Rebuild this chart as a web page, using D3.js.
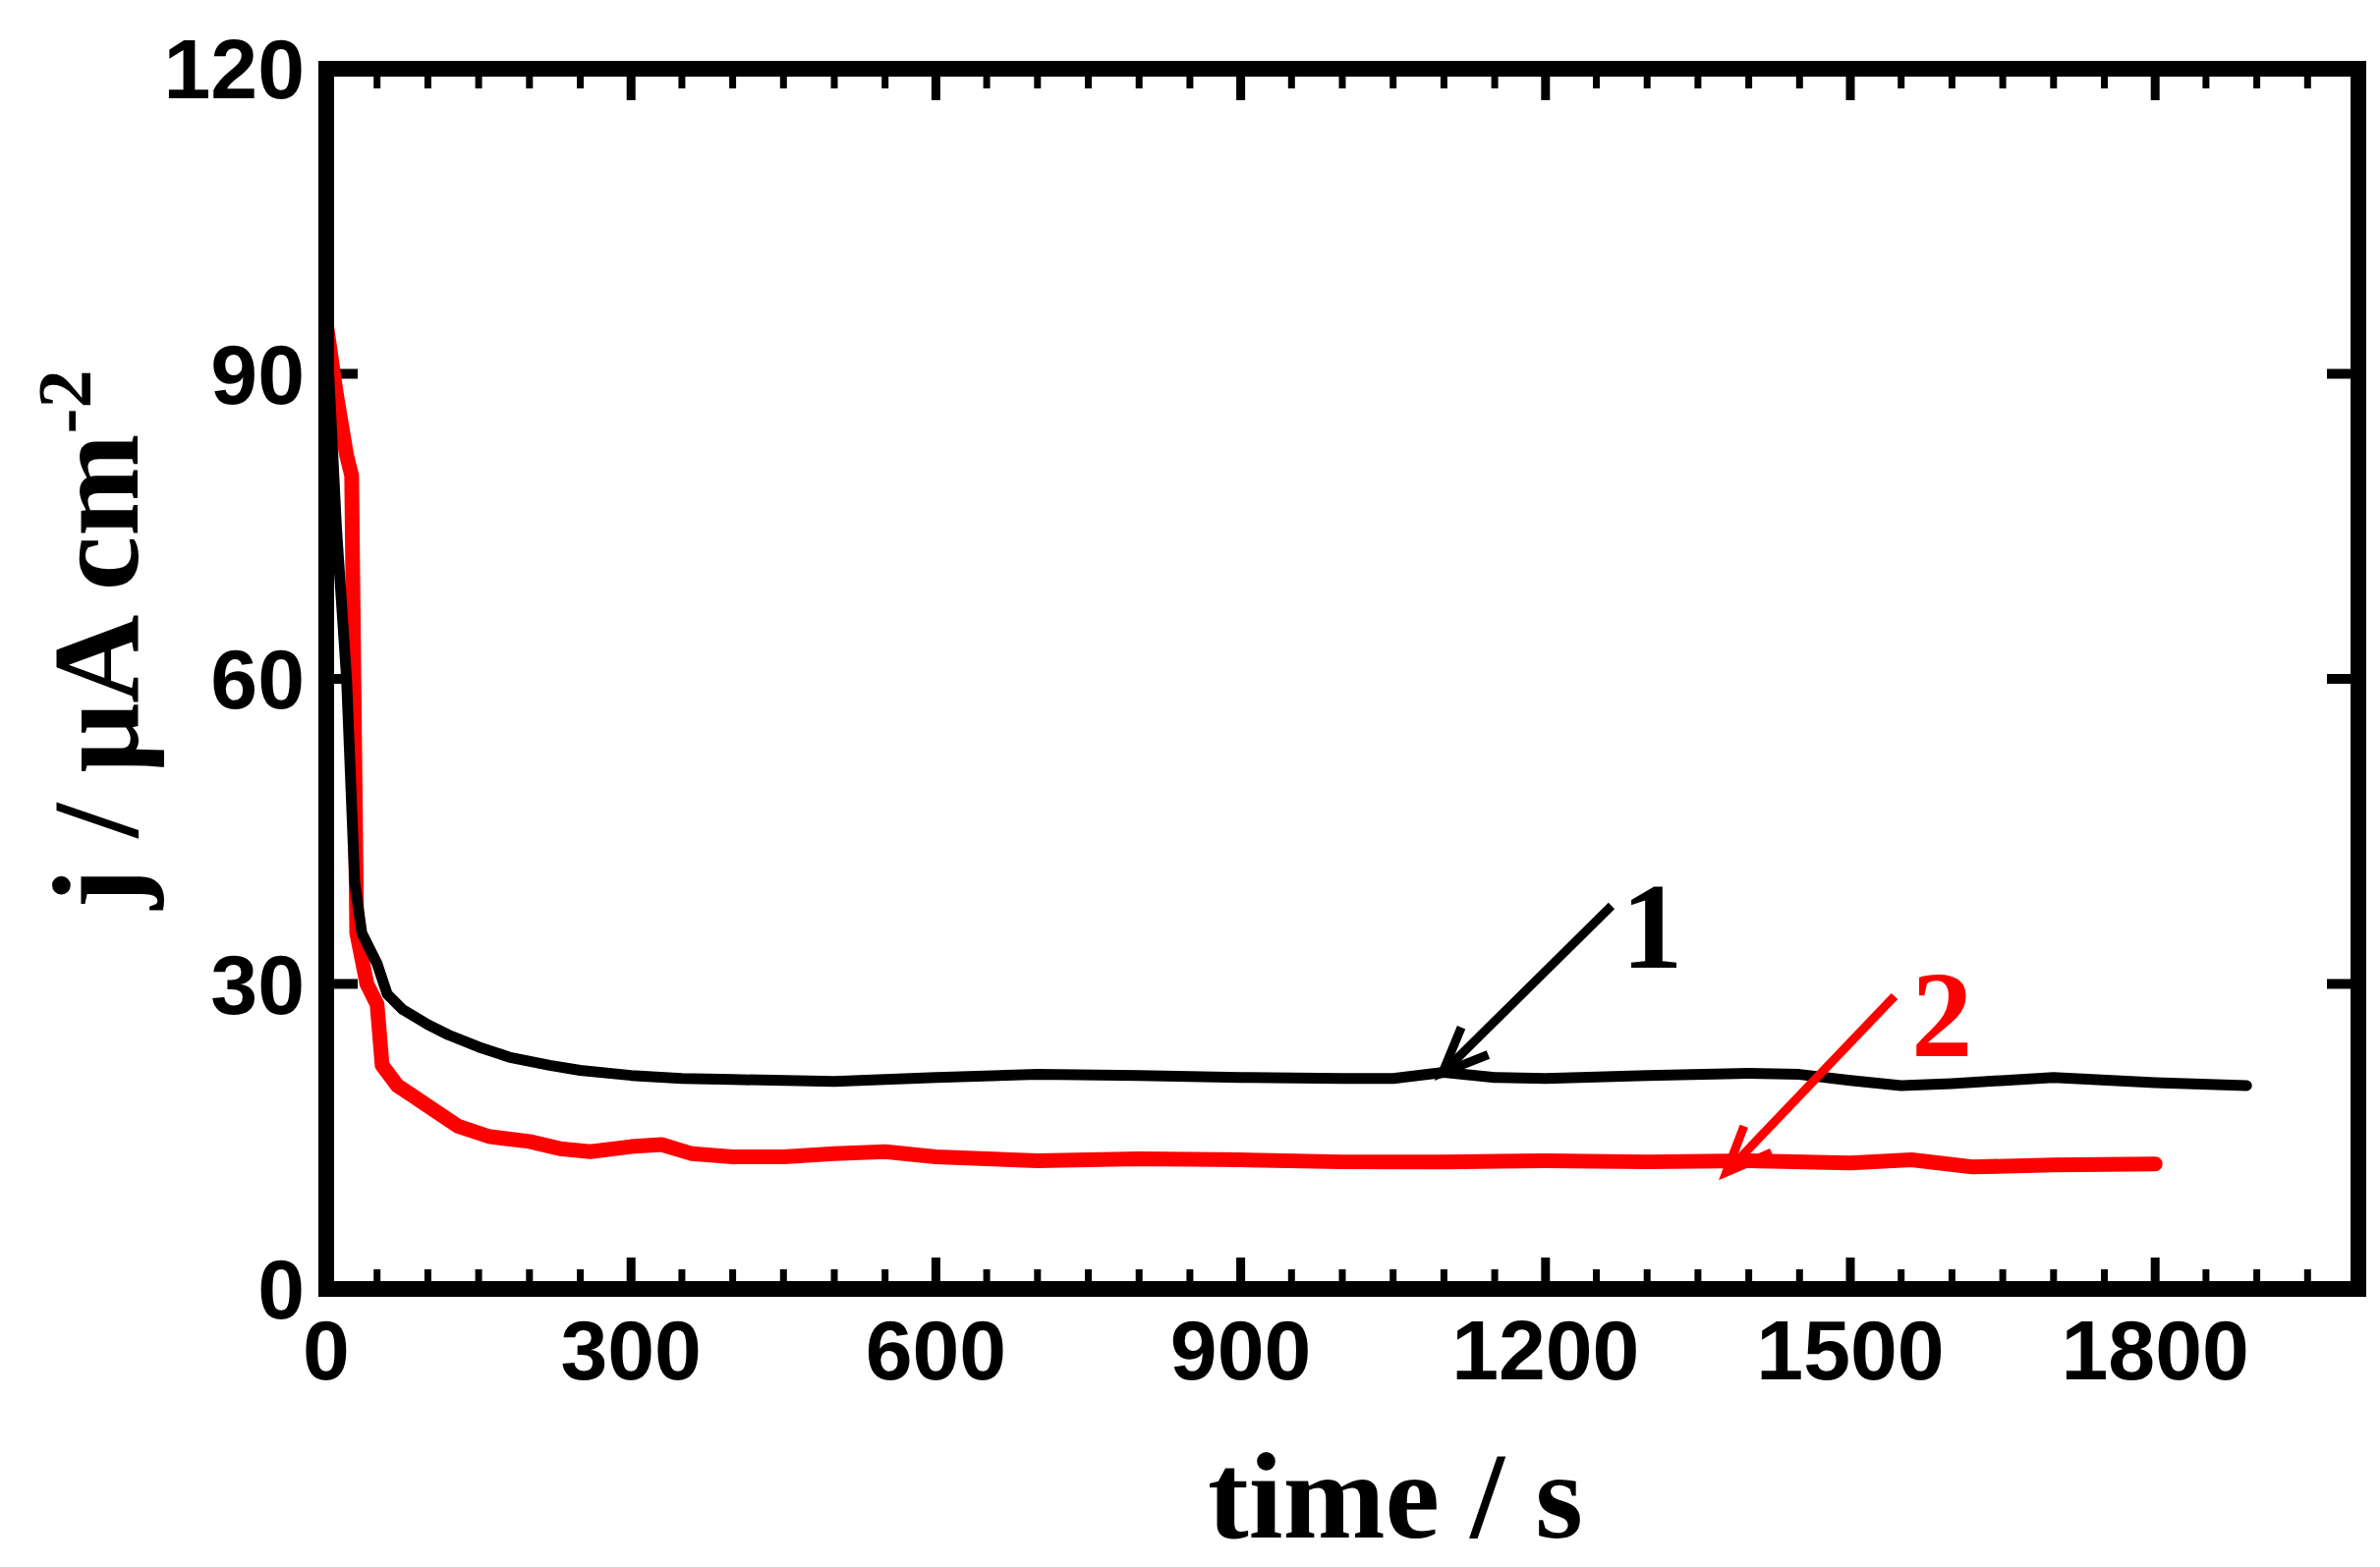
<!DOCTYPE html><html><head><meta charset="utf-8"><script src="https://cdn.jsdelivr.net/npm/d3@7"></script>
<style>body{margin:0;background:#fff}</style></head><body><svg id="c" width="2422" height="1595"></svg><script>
const xTicks=[0,300,600,900,1200,1500,1800];
const yTicks=[0,30,60,90,120];
const t1=[0,10,20,28,35,50,60,75,100,120,150,180,220,250,300,350,400,500,600,700,800,900,1000,1050,1100,1150,1200,1300,1400,1450,1500,1550,1600,1700,1800,1890];
const j1=[95,75,60,40,35,32,29,27.5,26,25,23.8,22.8,22,21.5,21,20.7,20.6,20.4,20.8,21.1,21,20.8,20.7,20.7,21.3,20.8,20.7,21,21.2,21.1,20.5,20,20.2,20.8,20.3,20];
const t2=[0,10,20,25,30,40,50,55,70,85,100,130,160,200,230,260,300,330,360,400,450,500,550,600,650,700,800,900,1000,1100,1200,1300,1400,1500,1560,1620,1700,1800];
const j2=[95,88,82,80,35,30,28,22,20,19,18,16,15,14.5,13.8,13.5,14,14.2,13.3,13,13,13.3,13.5,13,12.8,12.6,12.8,12.7,12.5,12.5,12.6,12.5,12.6,12.4,12.7,12,12.2,12.3];
const svg=d3.select("#c");
const L=332,R=2400,T=70,B=1312;
const x=d3.scaleLinear().domain([0,2000]).range([L,R]);
const y=d3.scaleLinear().domain([0,120]).range([B,T]);
const g=svg.append("g");
const minor=d3.range(0,2001,50);
minor.forEach(v=>{[[B,-1],[T,1]].forEach(([yy,d])=>g.append("line").attr("x1",x(v)).attr("x2",x(v)).attr("y1",yy).attr("y2",yy+d*20).attr("stroke","#000").attr("stroke-width",7));});
xTicks.forEach(v=>{[[B,-1],[T,1]].forEach(([yy,d])=>g.append("line").attr("x1",x(v)).attr("x2",x(v)).attr("y1",yy).attr("y2",yy+d*32).attr("stroke","#000").attr("stroke-width",9));});
yTicks.forEach(v=>{[[L,1],[R,-1]].forEach(([xx,d])=>g.append("line").attr("y1",y(v)).attr("y2",y(v)).attr("x1",xx).attr("x2",xx+d*32).attr("stroke","#000").attr("stroke-width",10));});
const line=d3.line().x(d=>x(d[0])).y(d=>y(d[1])).curve(d3.curveLinear);
svg.append("path").attr("d",line(t2.map((t,i)=>[t,j2[i]]))).attr("fill","none").attr("stroke","#ff0000").attr("stroke-width",15).attr("stroke-linejoin","round").attr("stroke-linecap","round");
svg.append("path").attr("d",line(t1.map((t,i)=>[t,j1[i]]))).attr("fill","none").attr("stroke","#000").attr("stroke-width",11).attr("stroke-linejoin","round").attr("stroke-linecap","round");
svg.append("rect").attr("x",L).attr("y",T).attr("width",R-L).attr("height",B-T).attr("fill","none").attr("stroke","#000").attr("stroke-width",16);
const lf="'Liberation Sans',Arial,sans-serif",tf="'Liberation Serif','Times New Roman',serif";
xTicks.forEach(v=>svg.append("text").attr("x",x(v)).attr("y",B+92).attr("text-anchor","middle").attr("font-family",lf).attr("font-weight","bold").attr("font-size",86).text(v));
yTicks.forEach(v=>svg.append("text").attr("x",L-22).attr("y",y(v)+30).attr("text-anchor","end").attr("font-family",lf).attr("font-weight","bold").attr("font-size",86).text(v));
svg.append("text").attr("x",1420).attr("y",1565).attr("text-anchor","middle").attr("font-family",tf).attr("font-weight","bold").attr("font-size",125).text("time / s");
const yt=svg.append("text").attr("transform",`translate(140,${(T+B)/2-40}) rotate(-90)`).attr("text-anchor","middle").attr("font-family",tf).attr("font-weight","bold").attr("font-size",125);
yt.append("tspan").text("j / μA cm");yt.append("tspan").attr("dy",-48).attr("font-size",78).text("-2");
function arrow(x1,y1,x2,y2,c){svg.append("line").attr("x1",x1).attr("y1",y1).attr("x2",x2).attr("y2",y2).attr("stroke",c).attr("stroke-width",9);
const a=Math.atan2(y2-y1,x2-x1),s=50,w=0.4;
svg.append("path").attr("d",`M${x2-s*Math.cos(a-w)},${y2-s*Math.sin(a-w)}L${x2},${y2}L${x2-s*Math.cos(a+w)},${y2-s*Math.sin(a+w)}`).attr("stroke",c).attr("stroke-width",9).attr("fill","none");}
arrow(1640,922,1468,1092,"#000");
arrow(1928,1014,1757,1193,"#ff0000");
svg.append("text").attr("x",1650).attr("y",985).attr("font-family",tf).attr("font-weight","bold").attr("font-size",125).text("1");
svg.append("text").attr("x",1945).attr("y",1075).attr("font-family",tf).attr("font-weight","bold").attr("font-size",125).attr("fill","#ff0000").text("2");
</script></body></html>
